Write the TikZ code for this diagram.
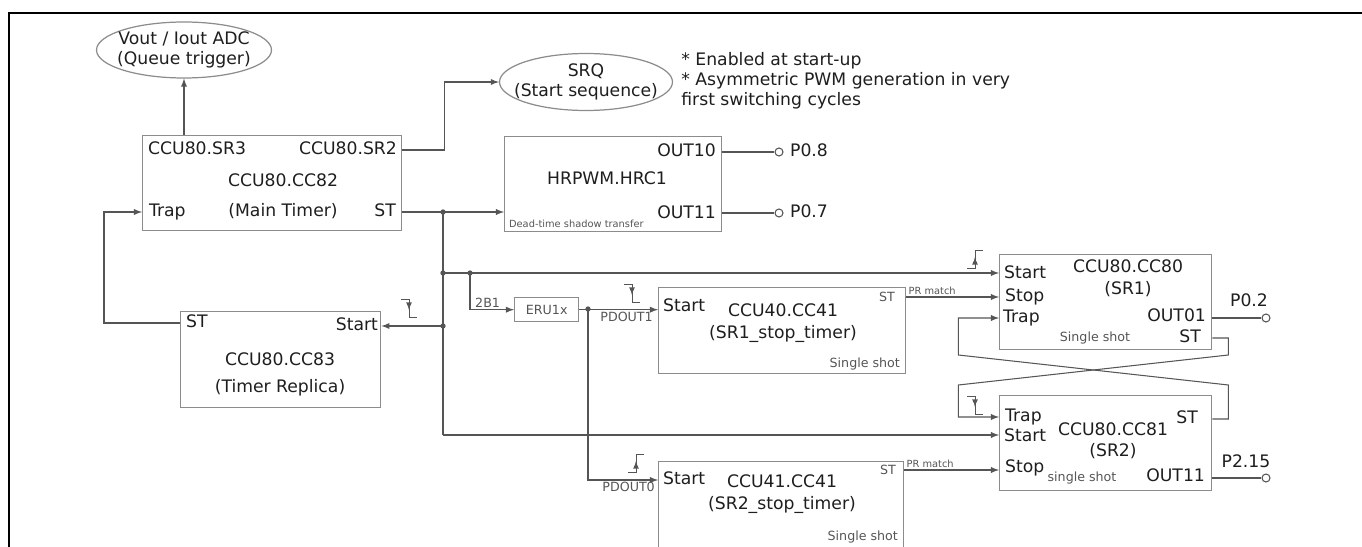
\documentclass[tikz,border=0pt]{standalone}
\usepackage{fontspec}
\setmainfont{DejaVu Sans}
\usetikzlibrary{shapes}
\definecolor{wirec}{HTML}{555555}
\definecolor{boxc}{HTML}{8C8C8C}
\definecolor{txt}{HTML}{1E1E1E}
\newcommand{\mainfs}{\fontsize{9.8}{11.3}\selectfont}
\newcommand{\smallfs}{\fontsize{7.2}{8.5}\selectfont}
\newcommand{\tinyfs}{\fontsize{5.6}{6.6}\selectfont}
\newcommand{\tikzBlock}[5]{
  \node[blk,minimum width=#4*0.02cm,minimum height=#5*0.02cm] (#1) at (#2,#3) {};
}
\newcommand{\tikzFallEdge}[2]{
  \draw[-,edgeline] (#1,#2) ++(-8,-9) -- ++(8,0) -- ++(0,18) -- ++(8,0);
  \draw[->,edgeline] (#1,#2) ++(0,-9) -- ++(0,11);
}
\newcommand{\tikzRiseEdge}[2]{
  \draw[-,edgeline] (#1,#2) ++(-8,9) -- ++(8,0) -- ++(0,-18) -- ++(8,0);
  \draw[->,edgeline] (#1,#2) ++(0,9) -- ++(0,-11);
}
\begin{document}
\begin{tikzpicture}[x=0.02cm, y=-0.02cm, >=latex,
  wire/.style={draw=wirec, line width=0.6pt},
  edgeline/.style={draw=wirec, line width=0.5pt},
  blk/.style={draw=boxc, line width=0.8pt, anchor=north west, inner sep=0pt},
  oval/.style={draw=boxc, line width=0.7pt, ellipse, inner sep=0pt},
  ovaltext/.style={align=center, font=\mainfs, text=txt, inner sep=0pt},
  lbl/.style={inner sep=1pt, font=\mainfs, text=txt, text height=0.75em, text depth=0.22em},
  sml/.style={inner sep=1pt, font=\smallfs, text=wirec},
  tny/.style={inner sep=1pt, font=\tinyfs, text=wirec},
  pin/.style={circle, draw=wirec, line width=0.6pt, fill=white, inner sep=0pt, minimum size=0.16cm}]
  \useasboundingbox (0,0) rectangle (1362,547);
  \clip (0,0) rectangle (1362,547);

  \draw[line width=1.7pt] (9,547) -- (9,13) -- (1362,13);

  % trigger targets
  \node[oval, minimum width=3.5cm, minimum height=1.12cm] (adc) at (184,50) {};
  \node[ovaltext] (adctext) at (adc) {Vout / Iout ADC\\(Queue trigger)};
  \node[oval, minimum width=3.46cm, minimum height=1.14cm] (srq) at (586,82) {};
  \node[ovaltext] (srqtext) at (srq) {SRQ\\(Start sequence)};
  \node[anchor=north west, align=left, font=\mainfs, text=txt, inner sep=0pt] (notes) at (681,52)
    {* Enabled at start-up\\* Asymmetric PWM generation in very\\first switching cycles};

  % main timer
  \tikzBlock{cc82}{142}{135}{259}{95}
  \node[lbl,anchor=west] (cc82sr3) at (146,150) {CCU80.SR3};
  \node[lbl,anchor=east] (cc82sr2) at (399,150) {CCU80.SR2};
  \node[lbl] (cc82name) at (283,182) {CCU80.CC82};
  \node[lbl,anchor=west] (cc82trap) at (147,212) {Trap};
  \node[lbl] (cc82sub) at (283,212) {(Main Timer)};
  \node[lbl,anchor=east] (cc82st) at (398,212) {ST};

  % hrpwm
  \tikzBlock{hrc1}{504}{136}{217}{95}
  \node[lbl,anchor=east] (hrcout10) at (718,152) {OUT10};
  \node[lbl] (hrcname) at (607,180) {HRPWM.HRC1};
  \node[lbl,anchor=east] (hrcout11) at (718,214) {OUT11};
  \node[tny,anchor=west] (hrcnote) at (507,224) {Dead-time shadow transfer};
  \node[pin] (pin08) at (779,152) {};
  \node[lbl,anchor=west] (p08) at (788,152) {P0.8};
  \node[pin] (pin07) at (779,213) {};
  \node[lbl,anchor=west] (p07) at (788,213) {P0.7};

  % replica
  \tikzBlock{cc83}{180}{311}{200}{96}
  \node[lbl,anchor=west] (cc83st) at (184,323) {ST};
  \node[lbl,anchor=east] (cc83start) at (380,326) {Start};
  \node[lbl] (cc83name) at (280,361) {CCU80.CC83};
  \node[lbl] (cc83sub) at (280,388) {(Timer Replica)};

  % eru and stop timers
  \tikzBlock{eru}{514}{297}{64}{24}
  \node[sml] (erutext) at (eru) {ERU1x};

  \tikzBlock{cc4041}{658}{287}{247}{86}
  \node[lbl,anchor=west] (c40start) at (661,307) {Start};
  \node[lbl] (c40name) at (783,312) {CCU40.CC41};
  \node[lbl] (c40sub) at (783,334) {(SR1\_stop\_timer)};
  \node[sml,anchor=east] (c40st) at (897,297) {ST};
  \node[sml,anchor=east] (c40shot) at (902,364) {Single shot};

  \tikzBlock{cc4141}{658}{461}{245}{100}
  \node[lbl,anchor=west] (c41start) at (661,480) {Start};
  \node[lbl] (c41name) at (782,483) {CCU41.CC41};
  \node[lbl] (c41sub) at (782,505) {(SR2\_stop\_timer)};
  \node[sml,anchor=east] (c41st) at (898,470) {ST};
  \node[sml,anchor=east] (c41shot) at (900,537) {Single shot};

  % SR1 / SR2
  \tikzBlock{cc80}{999}{254}{212}{95}
  \node[lbl,anchor=west] (c80start) at (1002,274) {Start};
  \node[lbl,anchor=west] (c80stop) at (1003,297) {Stop};
  \node[lbl,anchor=west] (c80trap) at (1001,318) {Trap};
  \node[lbl] (c80name) at (1128,268) {CCU80.CC80};
  \node[lbl] (c80sub) at (1128,290) {(SR1)};
  \node[lbl,anchor=east] (c80out01) at (1208,317) {OUT01};
  \node[lbl,anchor=east] (c80st) at (1203,338) {ST};
  \node[sml] (c80shot) at (1095,338) {Single shot};
  \node[pin] (pin02) at (1266,318) {};
  \node[lbl] (p02) at (1249,302) {P0.2};

  \tikzBlock{cc81}{999}{395}{212}{95}
  \node[lbl,anchor=west] (c81trap) at (1003,417) {Trap};
  \node[lbl,anchor=west] (c81start) at (1002,437) {Start};
  \node[lbl,anchor=west] (c81stop) at (1003,468) {Stop};
  \node[lbl] (c81name) at (1113,431) {CCU80.CC81};
  \node[lbl] (c81sub) at (1113,452) {(SR2)};
  \node[lbl,anchor=east] (c81st) at (1200,419) {ST};
  \node[lbl,anchor=east] (c81out11) at (1207,477) {OUT11};
  \node[sml] (c81shot) at (1082,478) {single shot};
  \node[pin] (pin215) at (1266,478) {};
  \node[lbl] (p215) at (1246,463) {P2.15};

  % junctions
  \coordinate (j1) at (443,212);
  \coordinate (j2) at (443,273);
  \coordinate (j3) at (443,326);
  \coordinate (j4) at (443,435);
  \coordinate (j5) at (470,273);
  \coordinate (j6) at (588,309);

  % connectors
  \draw[wire,->] (adc.south |- cc82.north) -- (adc.south);
  \draw[wire,->] (cc82sr2 -| cc82.east) -- ++(42,0) |- (srq.west);
  \draw[wire,->] (cc82st -| cc82.east) -- (cc82st -| hrc1.west);
  \draw[wire] (hrc1.east |- pin08) -- (pin08);
  \draw[wire] (hrc1.east |- pin07) -- (pin07);
  \draw[wire,->] (cc83st -| cc83.west) -- ++(-76,0) |- (cc82trap -| cc82.west);
  \draw[wire] (j1) -- (j4);
  \draw[wire,->] (j3) -- (cc83.east |- j3);
  \draw[wire,->] (j2) -- (j2 -| cc80.west);
  \draw[wire,->] (j4) -- (j4 -| cc81.west);
  \draw[wire,->] (j5) |- node[sml, pos=0.7, above] (lbl2b1) {2B1} (eru.west);
  \draw[wire,->] (eru.east) -- node[sml, pos=0.6, below] (lblpd1) {PDOUT1} (eru.east -| cc4041.west);
  \draw[wire,->] (j6) |- node[sml, pos=0.79, below] (lblpd0) {PDOUT0} (c41start -| cc4141.west);
  \draw[wire,->] (c40st -| cc4041.east) -- node[tny, pos=0, anchor=south west] (pr1) {PR match} (c40st -| cc80.west);
  \draw[wire,->] (c41st -| cc4141.east) -- node[tny, pos=0, anchor=south west] (pr2) {PR match} (c41st -| cc81.west);
  \draw[wire,->] (c81st -| cc81.east) -- ++(16,0) -- ++(0,-34) -- ++(-270,-30) |- (c80trap -| cc80.west);
  \draw[wire,->] (c80st -| cc80.east) -- ++(16,0) -- ++(0,17) -- ++(-270,30) |- (c81trap -| cc81.west);
  \draw[wire] (cc80.east |- pin02) -- (pin02);
  \draw[wire] (cc81.east |- pin215) -- (pin215);

  \foreach \j in {j1,j2,j3,j5,j6}
    \fill[wirec] (\j) circle (1.5pt);

  \tikzFallEdge{409}{308}
  \tikzFallEdge{632}{293}
  \tikzRiseEdge{975}{259}
  \tikzRiseEdge{636}{463}
  \tikzFallEdge{975}{405}
\end{tikzpicture}
\end{document}
